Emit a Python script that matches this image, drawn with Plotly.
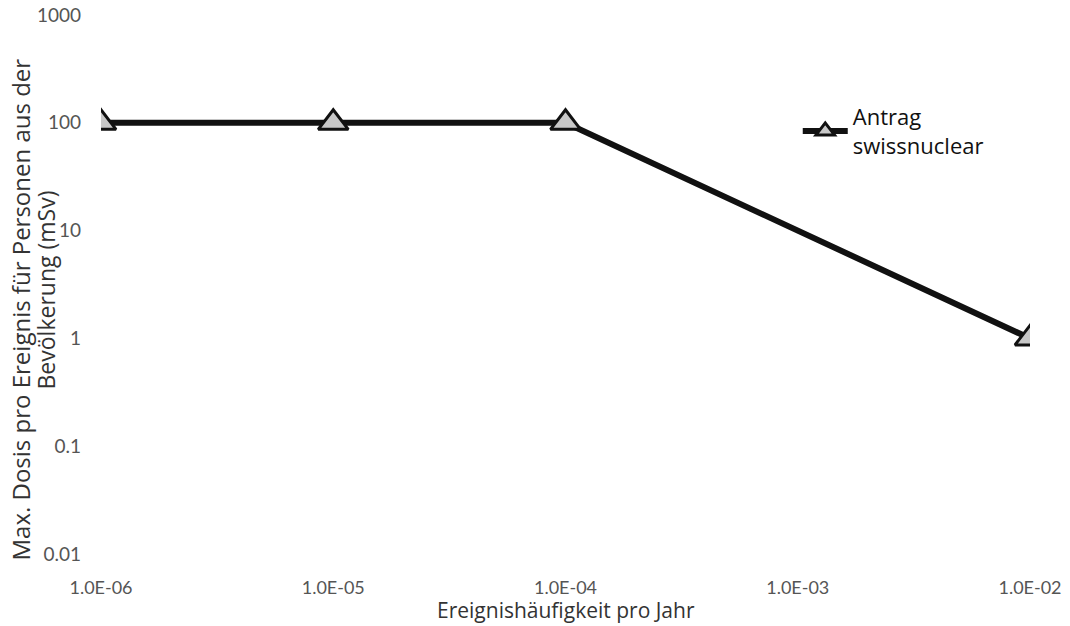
import plotly.graph_objects as go

frequency = [1e-6, 1e-5, 1e-4, 1e-2]
dose_msv = [100, 100, 100, 1]
series_name = "Antrag<br>swissnuclear"

x_tickvals = [1e-6, 1e-5, 1e-4, 1e-3, 1e-2]
x_ticktext = ["1.0E-06", "1.0E-05", "1.0E-04", "1.0E-03", "1.0E-02"]
y_tickvals = [0.01, 0.1, 1, 10, 100, 1000]
y_ticktext = ["0.01", "0.1", "1", "10", "100", "1000"]

x_title = "Ereignishäufigkeit pro Jahr"
y_title_line1 = "Max. Dosis pro Ereignis für Personen aus der"
y_title_line2 = "Bevölkerung (mSv)"

FONT = "Lato"
TITLE_FONT = "Open Sans"

fig = go.Figure()
fig.add_trace(go.Scatter(
    x=frequency, y=dose_msv, name=series_name, mode="lines+markers",
    line=dict(color="#111111", width=6),
    marker=dict(symbol="triangle-up", size=26, color="#c8c8c8",
                line=dict(color="#111111", width=3)),
))

fig.update_layout(
    width=1070, height=626,
    margin=dict(l=101, r=40, t=15, b=72, autoexpand=False),
    paper_bgcolor="white", plot_bgcolor="white",
    font=dict(family=FONT, size=17, color="#222222"),
    showlegend=True,
    legend=dict(x=0.75, y=0.85, xanchor="left", yanchor="top",
                font=dict(family=TITLE_FONT, size=22, color="#111111"),
                bgcolor="rgba(0,0,0,0)", itemwidth=45, tracegroupgap=0),
    xaxis=dict(type="log", range=[-6, -2], tickvals=x_tickvals, ticktext=x_ticktext,
               showgrid=False, zeroline=False, showline=False, ticks="",
               automargin=False, ticklabelstandoff=21,
               tickfont=dict(family=FONT, size=18, color="#555555")),
    yaxis=dict(type="log", range=[-2, 3], tickvals=y_tickvals, ticktext=y_ticktext,
               showgrid=False, zeroline=False, showline=False, ticks="",
               automargin=False, ticklabelstandoff=19,
               tickfont=dict(family=FONT, size=19, color="#555555")),
    annotations=[
        dict(text=x_title, xref="paper", yref="paper", x=0.5, y=0,
             xanchor="center", yanchor="middle", yshift=-56, showarrow=False,
             font=dict(family=TITLE_FONT, size=21, color="#333333")),
        dict(text=y_title_line1, xref="paper", yref="paper", x=0, y=0.5,
             xanchor="center", yanchor="middle", xshift=-81, yshift=-25,
             textangle=-90, showarrow=False,
             font=dict(family=TITLE_FONT, size=24, color="#333333")),
        dict(text=y_title_line2, xref="paper", yref="paper", x=0, y=0.5,
             xanchor="center", yanchor="middle", xshift=-56, yshift=-6,
             textangle=-90, showarrow=False,
             font=dict(family=TITLE_FONT, size=23, color="#333333")),
    ],
)

fig.write_html("out.html", config={"displayModeBar": False},
               post_script="document.body.style.margin='0';document.body.style.overflow='hidden';")
